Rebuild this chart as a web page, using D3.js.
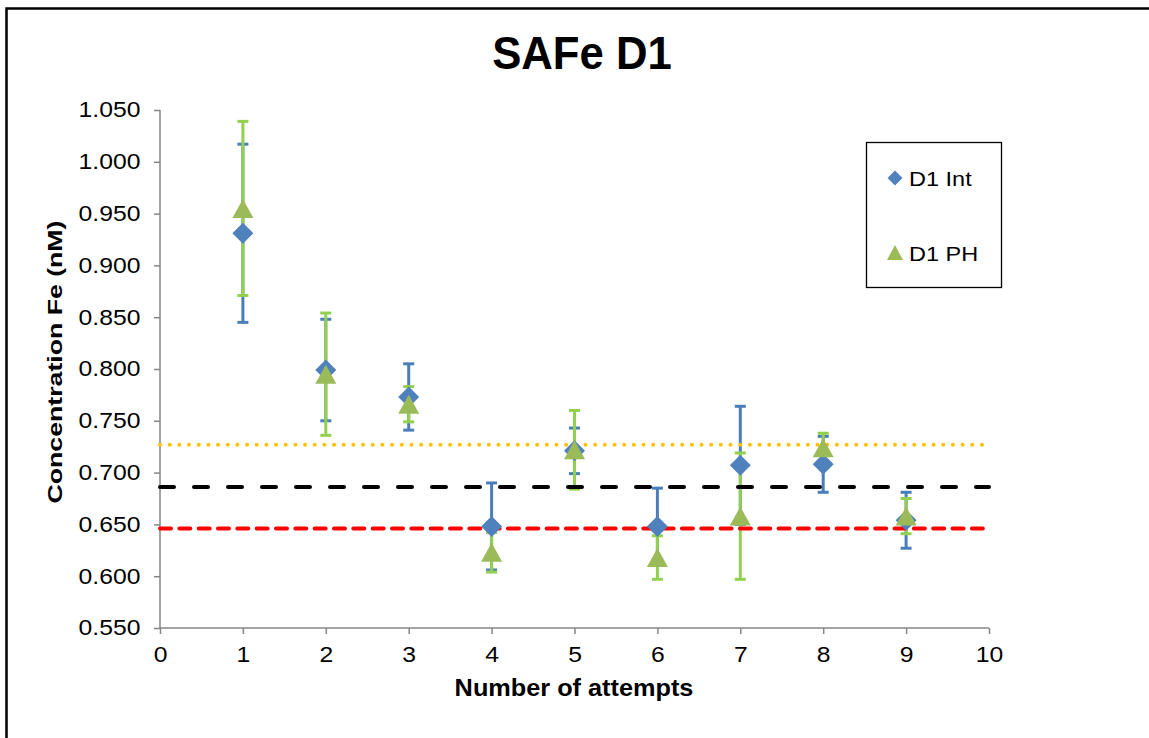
<!DOCTYPE html>
<meta charset="utf-8">
<script src="https://d3js.org/d3.v7.min.js"></script>
<style>
  body { margin: 0; background: #fff; }
  text { font-family: Arial, "Liberation Sans", sans-serif; fill: #000; }
  .axis path, .axis line { stroke: #868686; stroke-width: 1.5px; }
</style>
<body>
<script>
  // data
  var attempts = [1, 2, 3, 4, 5, 6, 7, 8, 9];
  var intMean = [0.931, 0.799, 0.773, 0.648, 0.721, 0.648, 0.707, 0.708, 0.654];
  var intErr  = [0.086, 0.049, 0.032, 0.042, 0.022, 0.037, 0.057, 0.027, 0.027];
  var phMean  = [0.955, 0.795, 0.766, 0.623, 0.722, 0.618, 0.658, 0.724, 0.658];
  var phErr   = [0.084, 0.059, 0.017, 0.019, 0.038, 0.021, 0.061, 0.014, 0.017];
  var refValues = [0.727, 0.686, 0.646];
  var xTicks = [0, 1, 2, 3, 4, 5, 6, 7, 8, 9, 10];
  var yTicks = [0.55, 0.60, 0.65, 0.70, 0.75, 0.80, 0.85, 0.90, 0.95, 1.00, 1.05];

  var svg = d3.select('body').append('svg')
    .attr('width', 1149)
    .attr('height', 738);

  // outer frame
  svg.append('rect')
    .attr('x', 6.5).attr('y', 8.5)
    .attr('width', 1160).attr('height', 760)
    .attr('fill', 'none')
    .attr('stroke', '#000')
    .attr('stroke-width', 2.5);

  var x = d3.scaleLinear().domain([0, 10]).range([160, 989]);
  var y = d3.scaleLinear().domain([0.55, 1.05]).range([628, 110]);

  // axes
  var gy = svg.append('g').attr('class', 'axis')
    .attr('transform', 'translate(160,0)')
    .call(d3.axisLeft(y).tickValues(yTicks).tickFormat(d3.format('.3f')).tickSize(6).tickSizeOuter(0).tickPadding(11));
  gy.selectAll('text')
    .style('font-size', '21.5px')
    .attr('transform', 'scale(1.15,1)');

  var gx = svg.append('g').attr('class', 'axis')
    .attr('transform', 'translate(0,628)')
    .call(d3.axisBottom(x).tickValues(xTicks).tickSize(6).tickSizeOuter(0).tickPadding(13));
  gx.selectAll('text')
    .style('font-size', '21.5px')
    .attr('transform', 'scale(1.15,1)');
  gy.select('.domain').remove();
  gx.select('.domain').remove();
  svg.append('line').attr('x1', 160).attr('x2', 160).attr('y1', 110).attr('y2', 628)
    .attr('stroke', '#868686').attr('stroke-width', 1.5);
  svg.append('line').attr('x1', 160).attr('x2', 989).attr('y1', 628).attr('y2', 628)
    .attr('stroke', '#868686').attr('stroke-width', 1.5);

  // titles
  svg.append('text')
    .attr('transform', 'translate(582,69) scale(0.93,1)')
    .attr('text-anchor', 'middle')
    .style('font-size', '47px').style('font-weight', 'bold')
    .text('SAFe D1');

  svg.append('text')
    .attr('transform', 'translate(574,696) scale(1.1,1)')
    .attr('text-anchor', 'middle')
    .style('font-size', '23px').style('font-weight', 'bold')
    .text('Number of attempts');

  svg.append('text')
    .attr('transform', 'translate(61.5,362) rotate(-90) scale(1.27,1)')
    .attr('text-anchor', 'middle')
    .style('font-size', '21px').style('font-weight', 'bold')
    .text('Concentration Fe (nM)');

  // error bars
  function errorBars(means, errs, color) {
    var g = svg.append('g');
    var data = attempts.map(function(a, i) { return {x: a, m: means[i], e: errs[i]}; });
    g.selectAll('line.v').data(data).enter().append('line')
      .attr('x1', function(d) { return x(d.x); })
      .attr('x2', function(d) { return x(d.x); })
      .attr('y1', function(d) { return y(d.m - d.e); })
      .attr('y2', function(d) { return y(d.m + d.e); })
      .attr('stroke', color).attr('stroke-width', 3);
    [-1, 1].forEach(function(s) {
      g.selectAll(null).data(data).enter().append('line')
        .attr('x1', function(d) { return x(d.x) - 5.5; })
        .attr('x2', function(d) { return x(d.x) + 5.5; })
        .attr('y1', function(d) { return y(d.m + s * d.e); })
        .attr('y2', function(d) { return y(d.m + s * d.e); })
        .attr('stroke', color).attr('stroke-width', 3);
    });
  }
  errorBars(intMean, intErr, '#4A7EBB');
  errorBars(phMean, phErr, '#92D050');

  // reference lines
  var refStyles = [
    {color: '#FFC000', dash: '0,9.67'},
    {color: '#000000', dash: '14,20'},
    {color: '#FF0000', dash: '11,8.33'}
  ];
  svg.selectAll('line.ref').data(refValues).enter().append('line')
    .attr('class', 'ref')
    .attr('x1', x(0)).attr('x2', x(10))
    .attr('y1', function(d) { return y(d); })
    .attr('y2', function(d) { return y(d); })
    .attr('stroke', function(d, i) { return refStyles[i].color; })
    .attr('stroke-dasharray', function(d, i) { return refStyles[i].dash; })
    .attr('stroke-linecap', 'round')
    .attr('stroke-width', 4);

  // markers
  function diamond(r) { return 'M0,' + (-r) + 'L' + r + ',0L0,' + r + 'L' + (-r) + ',0Z'; }
  function triangle(w, h) { return 'M0,' + (-h / 2) + 'L' + (w / 2) + ',' + (h / 2) + 'L' + (-w / 2) + ',' + (h / 2) + 'Z'; }

  svg.selectAll('path.int').data(intMean).enter().append('path')
    .attr('class', 'int')
    .attr('d', diamond(10.5))
    .attr('transform', function(d, i) { return 'translate(' + x(attempts[i]) + ',' + y(d) + ')'; })
    .attr('fill', '#4F81BD');

  svg.selectAll('path.ph').data(phMean).enter().append('path')
    .attr('class', 'ph')
    .attr('d', triangle(21, 19))
    .attr('transform', function(d, i) { return 'translate(' + x(attempts[i]) + ',' + y(d) + ')'; })
    .attr('fill', '#9BBB59');

  // legend
  var legend = svg.append('g');
  legend.append('rect')
    .attr('x', 866.5).attr('y', 142.5)
    .attr('width', 135).attr('height', 145)
    .attr('fill', '#fff').attr('stroke', '#000').attr('stroke-width', 1.3);
  legend.append('path').attr('d', diamond(7.5))
    .attr('transform', 'translate(895,178)').attr('fill', '#4F81BD');
  legend.append('path').attr('d', triangle(16, 15))
    .attr('transform', 'translate(895,252.5)').attr('fill', '#9BBB59');
  legend.append('text').attr('transform', 'translate(909,185.5) scale(1.12,1)')
    .style('font-size', '21px').text('D1 Int');
  legend.append('text').attr('transform', 'translate(909,260.5) scale(1.12,1)')
    .style('font-size', '21px').text('D1 PH');
</script>
</body>
</html>
